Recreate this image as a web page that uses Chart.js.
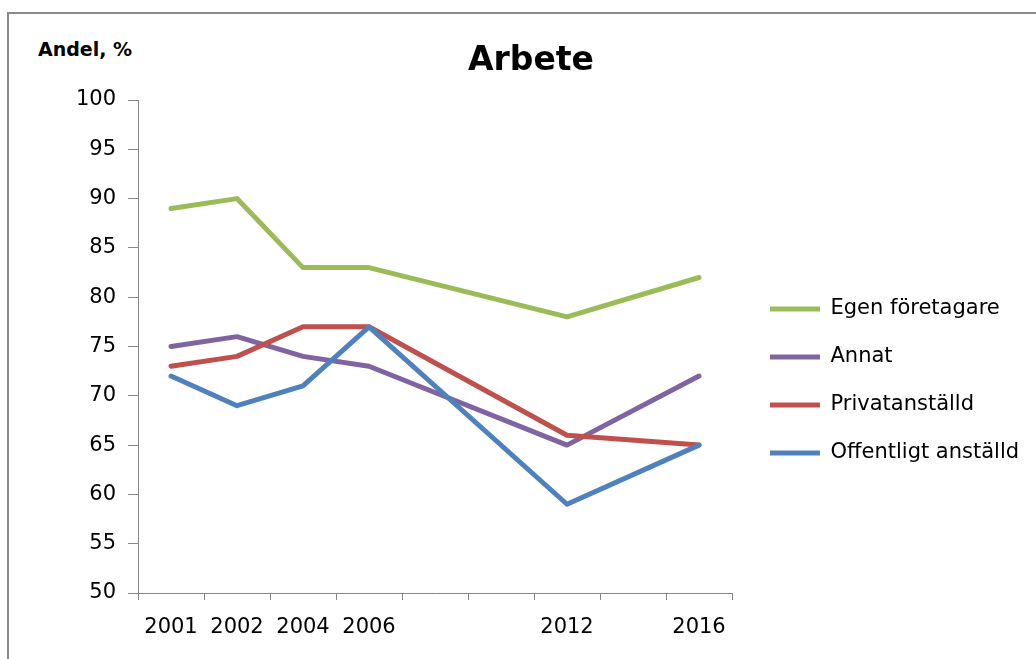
<!DOCTYPE html>
<html>
<head>
<meta charset="utf-8">
<script src="https://cdn.jsdelivr.net/npm/chart.js@4.4.1/dist/chart.umd.min.js"></script>
<style>
  html, body { margin: 0; padding: 0; background: #fff; overflow: hidden; }
  body { width: 1036px; height: 659px; position: relative; }
  #ram { position: absolute; left: 7px; top: 12px; width: 1100px; height: 700px;
         border: 2px solid #8a8a8a; box-sizing: border-box; }
  #enhet { position: absolute; left: 38px; top: 38px; font: bold 19px "DejaVu Sans", sans-serif; color: #000; }
  #wrap { position: absolute; left: 0; top: 0; width: 1036px; height: 659px; }
</style>
</head>
<body>
<div id="ram"></div>
<div id="enhet">Andel, %</div>
<div id="wrap"><canvas id="grafArbete"></canvas></div>
<script>
// Kategorier (tomma platser = år utan mätning)
const ar = ["2001", "2002", "2004", "2006", "", "", "2012", "", "2016"];

// Serier, andel i procent
const egenForetagare = [89, 90, 83, 83, null, null, 78, null, 82];
const annat = [75, 76, 74, 73, null, null, 65, null, 72];
const privatanstalld = [73, 74, 77, 77, null, null, 66, null, 65];
const offentligtAnstalld = [72, 69, 71, 77, null, null, 59, null, 65];

const serieNamn = ["Egen företagare", "Annat", "Privatanställd", "Offentligt anställd"];
const serieData = [egenForetagare, annat, privatanstalld, offentligtAnstalld];
const serieFarg = ["#9BBB59", "#8064A2", "#C0504D", "#4F81BD"];

const fontFam = '"DejaVu Sans", sans-serif';
const etikettStorlek = 21;
const gra = "#868686";
const plotHoger = 732; // där x-axeln slutar
const legendPad = 27;

// legend och titel på samma plats som i originalet
const placera = {
    id: "placera",
    afterLayout(chart) {
        const lg = chart.legend;
        const bredd = lg.right - lg.left, hojd = lg.bottom - lg.top;
        lg.left = chart.chartArea.right + 11;
        lg.right = lg.left + bredd;
        lg.top = 309 - etikettStorlek / 2 - legendPad;
        lg.bottom = lg.top + hojd;
        const tb = chart.titleBlock;
        tb.left = 26; tb.right = 1036;
    }
};

const ctx = document.getElementById("grafArbete").getContext("2d");
window.chartArbete = new Chart(ctx, {
    type: "line",
    data: {
        labels: ar,
        datasets: serieNamn.map((namn, i) => ({
            label: namn,
            data: serieData[i],
            borderColor: serieFarg[i],
            backgroundColor: serieFarg[i],
            borderWidth: 5,
            pointRadius: 0,
            pointHoverRadius: 0,
            pointStyle: "line",
            spanGaps: true,
            tension: 0,
            borderCapStyle: "round",
            borderJoinStyle: "round",
            order: serieNamn.length - i, // sista serien ritas överst
        })),
    },
    options: {
        responsive: true,
        maintainAspectRatio: false,
        animation: false,
        layout: { padding: { left: 0, right: 0, top: 0, bottom: 0 } },
        plugins: {
            title: {
                display: true,
                text: "Arbete",
                color: "#000",
                font: { family: fontFam, size: 33, weight: "bold" },
                padding: { top: 42, bottom: 18.4 },
            },
            legend: {
                display: true,
                position: "right",
                align: "start",
                maxWidth: 400,
                labels: {
                    color: "#000",
                    font: { family: fontFam, size: etikettStorlek, lineHeight: 1 },
                    usePointStyle: true,
                    pointStyleWidth: 50,
                    padding: legendPad,
                    sort: (a, b) => a.datasetIndex - b.datasetIndex,
                },
            },
            tooltip: { enabled: false },
        },
        scales: {
            x: {
                offset: true,
                grid: { drawOnChartArea: false, offset: true, color: gra, tickLength: 7 },
                border: { color: gra, width: 1 },
                ticks: { color: "#000", font: { family: fontFam, size: etikettStorlek }, padding: 15,
                         autoSkip: false, maxRotation: 0 },
                afterFit: (s) => { s.height = 66; },
            },
            y: {
                min: 50,
                max: 100,
                grid: { drawOnChartArea: false, color: gra, tickLength: 10 },
                border: { color: gra, width: 1 },
                ticks: { stepSize: 5, color: "#000", font: { family: fontFam, size: etikettStorlek }, padding: 12 },
                afterFit: (s) => { s.width = 138; },
            },
        },
    },
    plugins: [placera],
});

// justera högermarginalen så att plottytan slutar vid plotHoger
const chart = window.chartArbete;
for (let k = 0; k < 2; k++) {
    chart.options.layout.padding.right += chart.chartArea.right - plotHoger;
    chart.update();
}
</script>
</body>
</html>
